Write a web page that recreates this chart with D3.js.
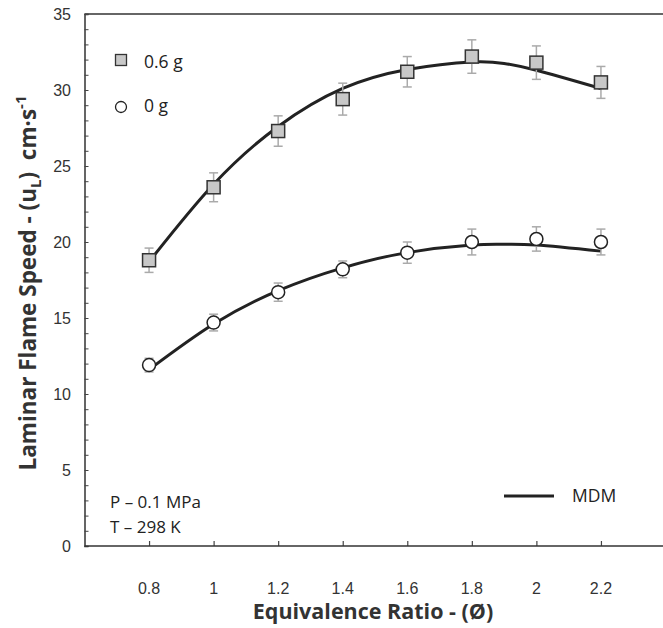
<!DOCTYPE html>
<html><head><meta charset="utf-8">
<script src="https://cdn.jsdelivr.net/npm/d3@7"></script>
<style>body{margin:0;background:#fff}svg{display:block}</style>
</head><body>
<svg id="c" width="663" height="628"></svg>
<script>
const phi = [0.8, 1.0, 1.2, 1.4, 1.6, 1.8, 2.0, 2.2];
const g06 = [18.8, 23.6, 27.3, 29.4, 31.2, 32.2, 31.8, 30.5];
const g06Err = [0.8, 0.95, 1.0, 1.05, 1.0, 1.1, 1.1, 1.05];
const g0 = [11.9, 14.7, 16.7, 18.2, 19.3, 20.0, 20.2, 20.0];
const g0Err = [0.45, 0.55, 0.6, 0.55, 0.7, 0.85, 0.8, 0.85];
const mdmX = [0.8, 1.0, 1.2, 1.4, 1.6, 1.8, 1.9, 2.0, 2.2];
const mdm06 = [18.7, 23.8, 27.6, 30.1, 31.35, 31.85, 31.75, 31.3, 30.1];
const mdm0 = [11.6, 14.6, 16.8, 18.3, 19.3, 19.8, 19.85, 19.8, 19.4];
const xTicks = [0.8, 1, 1.2, 1.4, 1.6, 1.8, 2, 2.2];
const yTicks = [0, 5, 10, 15, 20, 25, 30, 35];

const svg = d3.select("#c");
const x = d3.scaleLinear().domain([0.6, 2.4]).range([84.5, 665.5]);
const y = d3.scaleLinear().domain([0, 35]).range([546, 14]);
const L = 84.5, R = 663;

// frame
svg.append("line").attr("x1", L).attr("x2", R).attr("y1", 14).attr("y2", 14).attr("stroke", "#333").attr("stroke-width", 1.5);

// y axis
const ya = d3.axisRight(y).tickValues(d3.range(0, 36, 1)).tickSize(4).tickFormat("");
const gy = svg.append("g").attr("transform", `translate(${L},0)`).call(ya);
gy.select(".domain").attr("stroke", "#333").attr("stroke-width", 1.5);
gy.selectAll(".tick line").attr("stroke", "#444").attr("stroke-width", 1);
svg.append("g").selectAll("text").data(yTicks).join("text")
  .attr("x", 71).attr("y", d => y(d)).attr("dy", "0.35em").attr("text-anchor", "end")
  .attr("font-family", "Liberation Sans, Arial, sans-serif").attr("font-size", 16).attr("fill", "#333")
  .text(d => d);

// x axis
const xa = d3.axisTop(x).tickValues(xTicks).tickSize(5).tickFormat("");
const gx = svg.append("g").attr("transform", `translate(0,546)`).call(xa);
gx.select(".domain").remove();
gx.selectAll(".tick line").attr("stroke", "#444").attr("stroke-width", 1.2);
svg.append("line").attr("x1", L).attr("x2", R).attr("y1", 546).attr("y2", 546).attr("stroke", "#333").attr("stroke-width", 1.5);
svg.append("g").selectAll("text").data(xTicks).join("text")
  .attr("x", d => x(d)).attr("y", 588).attr("dy", "0.35em").attr("text-anchor", "middle")
  .attr("font-family", "Liberation Sans, Arial, sans-serif").attr("font-size", 16).attr("fill", "#333")
  .text(d => d);

// titles
svg.append("text").attr("x", 373).attr("y", 619).attr("text-anchor", "middle")
  .attr("font-family", "Open Sans, Lato, sans-serif").attr("font-weight", "bold").attr("font-size", 21.5).attr("fill", "#333")
  .text("Equivalence Ratio - (Ø)");
const yt = svg.append("text").attr("transform", "translate(36,283) rotate(-90)").attr("text-anchor", "middle")
  .attr("font-family", "Open Sans, Lato, sans-serif").attr("font-weight", "bold").attr("font-size", 22.5).attr("fill", "#333")
  .attr("xml:space", "preserve").style("white-space", "pre");
yt.append("tspan").text("Laminar Flame Speed - (u");
yt.append("tspan").attr("font-size", 15).attr("dy", 5).text("L");
yt.append("tspan").attr("dy", -5).text(")  cm·s");
yt.append("tspan").attr("font-size", 15).attr("dy", -10).text("-1");

// model lines
const line = d3.line().x(d => x(d[0])).y(d => y(d[1])).curve(d3.curveNatural);
[mdm06, mdm0].forEach(s => {
  svg.append("path").datum(mdmX.map((v, i) => [v, s[i]])).attr("d", line)
    .attr("fill", "none").attr("stroke", "#222").attr("stroke-width", 3);
});

// error bars
function errs(vals, errsArr) {
  const g = svg.append("g").attr("stroke", "#aaa").attr("stroke-width", 1.5);
  phi.forEach((p, i) => {
    const cx = x(p), t = y(vals[i] + errsArr[i]), b = y(vals[i] - errsArr[i]);
    g.append("line").attr("x1", cx).attr("x2", cx).attr("y1", t).attr("y2", b);
    g.append("line").attr("x1", cx - 4.5).attr("x2", cx + 4.5).attr("y1", t).attr("y2", t);
    g.append("line").attr("x1", cx - 4.5).attr("x2", cx + 4.5).attr("y1", b).attr("y2", b);
  });
}
errs(g06, g06Err);
errs(g0, g0Err);

// markers
svg.append("g").selectAll("rect").data(phi).join("rect")
  .attr("x", (d) => x(d) - 6.5).attr("y", (d, i) => y(g06[i]) - 6.5).attr("width", 13).attr("height", 13)
  .attr("fill", "#c8c8c8").attr("stroke", "#333").attr("stroke-width", 1.5);
svg.append("g").selectAll("circle").data(phi).join("circle")
  .attr("cx", d => x(d)).attr("cy", (d, i) => y(g0[i])).attr("r", 6.5)
  .attr("fill", "#fff").attr("stroke", "#222").attr("stroke-width", 1.5);

// legend
const lf = "Open Sans, Lato, sans-serif";
svg.append("rect").attr("x", 115.5).attr("y", 54.5).attr("width", 11).attr("height", 11)
  .attr("fill", "#c8c8c8").attr("stroke", "#333").attr("stroke-width", 1.3);
svg.append("text").attr("x", 144).attr("y", 62).attr("dy", "0.35em").attr("font-family", lf).attr("font-size", 17.5).attr("fill", "#222").text("0.6 g");
svg.append("circle").attr("cx", 121).attr("cy", 107).attr("r", 5.5).attr("fill", "#fff").attr("stroke", "#222").attr("stroke-width", 1.3);
svg.append("text").attr("x", 144).attr("y", 106).attr("dy", "0.35em").attr("font-family", lf).attr("font-size", 17.5).attr("fill", "#222").text("0 g");

svg.append("text").attr("x", 110).attr("y", 502).attr("dy", "0.35em").attr("font-family", lf).attr("font-size", 17).attr("fill", "#222").text("P – 0.1 MPa");
svg.append("text").attr("x", 110).attr("y", 527).attr("dy", "0.35em").attr("font-family", lf).attr("font-size", 17).attr("fill", "#222").text("T – 298 K");

svg.append("line").attr("x1", 504).attr("x2", 554).attr("y1", 496).attr("y2", 496).attr("stroke", "#222").attr("stroke-width", 3);
svg.append("text").attr("x", 572).attr("y", 496).attr("dy", "0.35em").attr("font-family", lf).attr("font-size", 17.5).attr("fill", "#222").text("MDM");
</script>
</body></html>
